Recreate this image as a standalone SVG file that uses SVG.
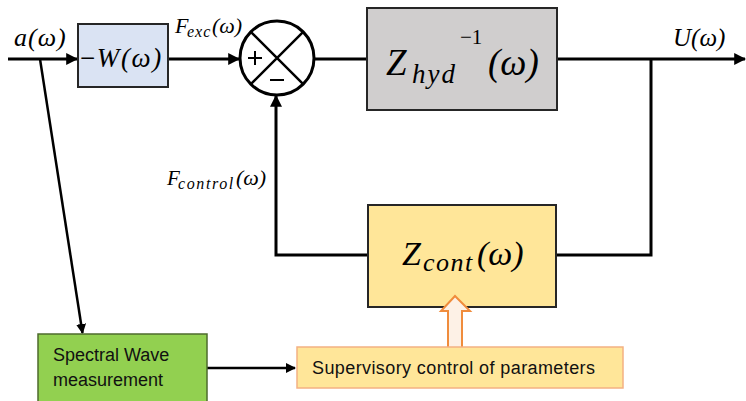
<svg xmlns="http://www.w3.org/2000/svg" width="746" height="401" viewBox="0 0 746 401">
  <style>
    .blk { stroke: #262626; stroke-width: 2; }
    .wire { fill: none; stroke: #000; stroke-width: 3; }
    .math { font-family: "Liberation Serif", "DejaVu Serif", serif; font-style: italic; fill: #000; }
    .up { font-style: normal; }
    .plain { font-family: "Liberation Sans", "Open Sans", sans-serif; fill: #111; }
  </style>
  <defs>
    <marker id="arrow" viewBox="0 0 10 10" refX="9" refY="5" markerWidth="4" markerHeight="4" orient="auto" markerUnits="strokeWidth">
      <path d="M0,0 L10,5 L0,10 z" fill="#000"/>
    </marker>
  </defs>

  <!-- connectors -->
  <g id="connectors">
    <path class="wire" d="M8,59 H77" marker-end="url(#arrow)"/>
    <path class="wire" d="M168,59 H239" marker-end="url(#arrow)"/>
    <path class="wire" d="M314,59 H367"/>
    <path class="wire" d="M557,59 H745" marker-end="url(#arrow)"/>
    <path class="wire" d="M651,59 V255 H557"/>
    <path class="wire" d="M368,255 H276 V96" marker-end="url(#arrow)"/>
    <path class="wire" d="M40,59 L82.5,333" marker-end="url(#arrow)" style="stroke-width:2.5"/>
    <path class="wire" d="M207,368 H295" marker-end="url(#arrow)" style="stroke-width:2.5"/>
  </g>

  <!-- input signal label -->
  <text class="math" x="14" y="46" font-size="26" letter-spacing="1">a(ω)</text>

  <!-- wave excitation operator -->
  <g id="W">
    <rect class="blk" x="78" y="24" width="90" height="63" fill="#dae3f3"/>
    <text class="math" x="80" y="67" font-size="27" letter-spacing="1.6"><tspan class="up">−</tspan>W(ω)</text>
  </g>

  <text class="math" x="175" y="33" font-size="22">F<tspan x="187" font-size="16" dy="4" letter-spacing="1">exc</tspan><tspan x="212" dy="-4">(ω)</tspan></text>

  <!-- summing junction -->
  <g id="sum">
    <circle cx="277" cy="58" r="37" fill="#fff" stroke="#000" stroke-width="3"/>
    <path d="M250.8,31.8 L303.2,84.2 M303.2,31.8 L250.8,84.2" stroke="#000" stroke-width="2.5"/>
    <path d="M248,58 H262 M255,51 V65" stroke="#000" stroke-width="2"/>
    <path d="M270,80 H284" stroke="#000" stroke-width="2"/>
  </g>

  <!-- hydrodynamic admittance -->
  <g id="Zhyd">
    <rect class="blk" x="367" y="8" width="190" height="102" fill="#d0cece"/>
    <text class="math" x="386" y="75" font-size="37">Z<tspan x="412" font-size="27" dy="8" letter-spacing="2">hyd</tspan><tspan class="up" font-size="21" x="460" dy="-39">−1</tspan><tspan x="488" dy="31">(ω)</tspan></text>
  </g>

  <text class="math" x="673" y="46" font-size="25">U(ω)</text>

  <text class="math" x="167" y="185" font-size="21">F<tspan x="178" font-size="16" dy="4" letter-spacing="1.6">control</tspan><tspan x="236" dy="-4" font-size="22">(ω)</tspan></text>

  <!-- controller impedance -->
  <g id="Zcont">
    <rect class="blk" x="368" y="205" width="188" height="102" fill="#ffe699"/>
    <text class="math" x="402" y="265" font-size="34">Z<tspan x="423" font-size="26" dy="6" letter-spacing="1.5">cont</tspan><tspan x="477" dy="-6">(ω)</tspan></text>
  </g>

  <!-- parameter update arrow -->
  <path d="M448,348 V311 H441 L455,296 L470,311 H462 V348 Z" fill="#fdf1e6" stroke="#f08c3c" stroke-width="2"/>

  <!-- wave measurement -->
  <g id="measure">
    <rect x="38" y="334" width="169" height="70" fill="#92d050" stroke="#4d6b2d" stroke-width="1.5"/>
    <text class="plain" x="53" y="361" font-size="18">Spectral Wave</text>
    <text class="plain" x="53" y="386" font-size="18">measurement</text>
  </g>

  <!-- supervisory controller -->
  <g id="supervisor">
    <rect x="297" y="347" width="326" height="41" fill="#ffe699" stroke="#f4b183" stroke-width="1.5"/>
    <text class="plain" x="312" y="374" font-size="18" textLength="283">Supervisory control of parameters</text>
  </g>
</svg>
